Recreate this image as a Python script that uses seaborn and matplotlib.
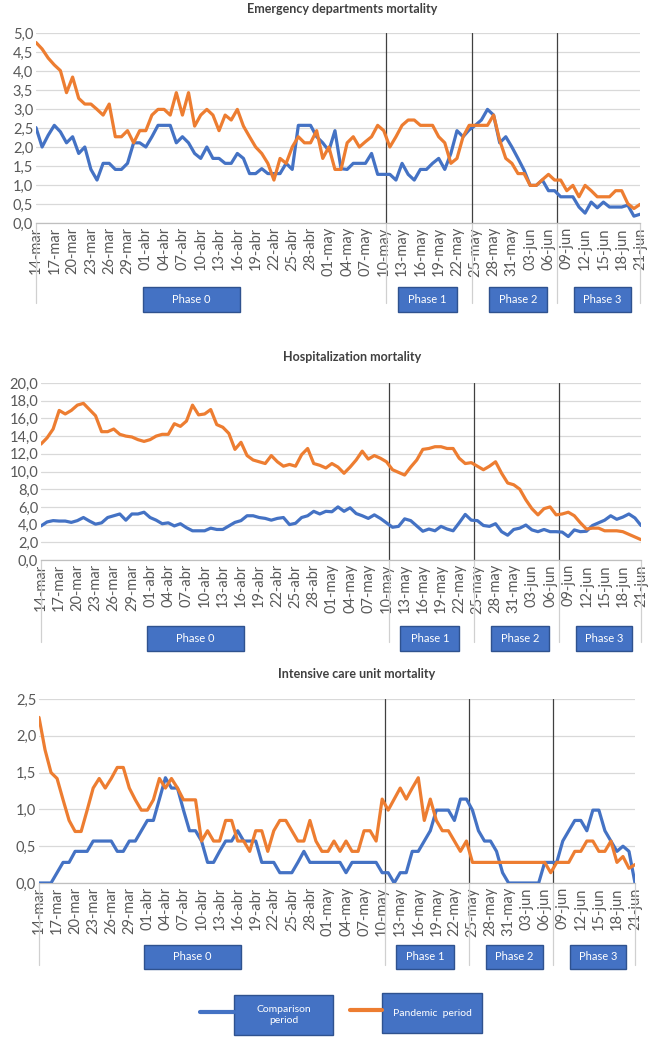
import numpy as np
import pandas as pd
import matplotlib
matplotlib.use("Agg")
import matplotlib.pyplot as plt
import matplotlib.transforms as mtrans
from matplotlib.patches import Rectangle
from matplotlib.lines import Line2D
import seaborn as sns

# ---------------- data ----------------
start_date = "2020-03-14"
end_date = "2020-06-21"
month_abbr = {3: "mar", 4: "abr", 5: "may", 6: "jun"}

series_names = ["Comparison period", "Pandemic period"]
phase_names = ["Phase 0", "Phase 1", "Phase 2", "Phase 3"]
phase_bounds = [57.4, 71.5, 85.4]   # day index of phase changes

titles = ["Emergency departments mortality",
          "Hospitalization mortality",
          "Intensive care unit mortality"]

ed_comp = [2.51, 2.0, 2.31, 2.57, 2.40, 2.11, 2.27, 1.83, 2.0, 1.41,
           1.13, 1.57, 1.57, 1.41, 1.41, 1.57, 2.11, 2.11, 2.0, 2.27,
           2.57, 2.57, 2.57, 2.11, 2.27, 2.11, 1.83, 1.70, 2.0, 1.70,
           1.70, 1.57, 1.57, 1.83, 1.70, 1.30, 1.30, 1.43, 1.30, 1.30,
           1.30, 1.57, 1.41, 2.57, 2.57, 2.57, 2.27, 2.11, 1.90, 2.43,
           1.43, 1.41, 1.57, 1.57, 1.57, 1.83, 1.28, 1.28, 1.28, 1.13,
           1.57, 1.28, 1.13, 1.41, 1.41, 1.57, 1.70, 1.41, 1.83, 2.43,
           2.27, 2.45, 2.57, 2.71, 2.99, 2.84, 2.11, 2.27, 2.0, 1.70,
           1.39, 0.99, 0.99, 1.13, 0.85, 0.85, 0.69, 0.69, 0.69, 0.42,
           0.26, 0.55, 0.40, 0.55, 0.42, 0.42, 0.42, 0.47, 0.18, 0.23]
ed_pand = [4.75, 4.58, 4.34, 4.16, 4.01, 3.43, 3.84, 3.28, 3.13, 3.13,
           2.99, 2.84, 3.13, 2.27, 2.27, 2.43, 2.11, 2.43, 2.43, 2.84,
           2.99, 2.99, 2.84, 3.43, 2.84, 3.43, 2.55, 2.84, 2.99, 2.84,
           2.43, 2.84, 2.71, 2.99, 2.55, 2.27, 2.0, 1.83, 1.57, 1.13,
           1.70, 1.57, 2.0, 2.27, 2.11, 2.11, 2.43, 1.70, 2.0, 1.41,
           1.41, 2.11, 2.27, 2.0, 2.14, 2.27, 2.57, 2.43, 2.0, 2.27,
           2.57, 2.71, 2.71, 2.57, 2.57, 2.57, 2.27, 2.11, 1.57, 1.70,
           2.27, 2.57, 2.57, 2.57, 2.57, 2.84, 2.18, 1.70, 1.57, 1.30,
           1.30, 0.99, 0.99, 1.14, 1.28, 1.13, 1.13, 0.85, 0.99, 0.69,
           0.99, 0.85, 0.69, 0.69, 0.69, 0.85, 0.85, 0.51, 0.38, 0.49]

hosp_comp = [3.85, 4.3, 4.45, 4.4, 4.4, 4.25, 4.45, 4.8, 4.4, 4.05,
             4.2, 4.8, 5.0, 5.2, 4.5, 5.2, 5.2, 5.4, 4.8, 4.5,
             4.1, 4.2, 3.85, 4.1, 3.65, 3.3, 3.3, 3.3, 3.6, 3.45,
             3.45, 3.85, 4.25, 4.45, 5.0, 5.0, 4.8, 4.7, 4.5, 4.7,
             4.8, 4.0, 4.15, 4.8, 5.0, 5.5, 5.2, 5.5, 5.45, 6.0,
             5.5, 5.9, 5.25, 5.0, 4.7, 5.1, 4.7, 4.2, 3.7, 3.8,
             4.65, 4.45, 3.85, 3.25, 3.5, 3.3, 3.8, 3.5, 3.3, 4.2,
             5.15, 4.5, 4.45, 3.9, 3.8, 4.1, 3.2, 2.8, 3.45, 3.6,
             3.95, 3.4, 3.2, 3.45, 3.2, 3.2, 3.15, 2.65, 3.4, 3.2,
             3.25, 3.9, 4.2, 4.5, 5.0, 4.6, 4.85, 5.2, 4.75, 3.9]
hosp_pand = [13.1, 13.8, 14.8, 16.9, 16.5, 16.9, 17.5, 17.7, 17.0, 16.3,
             14.5, 14.5, 14.8, 14.2, 14.0, 13.9, 13.6, 13.4, 13.6, 14.0,
             14.2, 14.2, 15.4, 15.1, 15.7, 17.5, 16.4, 16.5, 17.0, 15.3,
             15.0, 14.3, 12.5, 13.3, 11.8, 11.3, 11.1, 10.9, 11.8, 11.1,
             10.6, 10.8, 10.6, 11.9, 12.6, 10.9, 10.7, 10.4, 10.9, 10.5,
             9.8, 10.5, 11.3, 12.3, 11.4, 11.8, 11.5, 11.1, 10.2, 9.9,
             9.6, 10.5, 11.3, 12.5, 12.6, 12.8, 12.8, 12.6, 12.6, 11.5,
             10.9, 11.0, 10.6, 10.2, 10.6, 11.1, 9.8, 8.7, 8.5, 8.0,
             6.8, 5.8, 5.1, 5.8, 6.0, 5.1, 5.2, 5.4, 5.0, 4.2,
             3.5, 3.6, 3.6, 3.3, 3.3, 3.3, 3.2, 2.9, 2.6, 2.3]

icu_comp = [0.0, 0.0, 0.0, 0.14, 0.28, 0.28, 0.43, 0.43, 0.43, 0.57,
            0.57, 0.57, 0.57, 0.43, 0.43, 0.57, 0.57, 0.71, 0.85, 0.85,
            1.14, 1.43, 1.29, 1.29, 0.99, 0.71, 0.71, 0.57, 0.28, 0.28,
            0.43, 0.57, 0.57, 0.71, 0.57, 0.57, 0.57, 0.28, 0.28, 0.28,
            0.14, 0.14, 0.14, 0.28, 0.43, 0.28, 0.28, 0.28, 0.28, 0.28,
            0.28, 0.14, 0.28, 0.28, 0.28, 0.28, 0.28, 0.14, 0.14, 0.0,
            0.14, 0.14, 0.43, 0.43, 0.57, 0.71, 0.99, 0.99, 0.99, 0.85,
            1.14, 1.14, 0.99, 0.71, 0.57, 0.57, 0.43, 0.14, 0.0, 0.0,
            0.0, 0.0, 0.0, 0.0, 0.28, 0.28, 0.28, 0.57, 0.71, 0.85,
            0.85, 0.71, 0.99, 0.99, 0.71, 0.57, 0.43, 0.50, 0.43, 0.0]
icu_pand = [2.25, 1.81, 1.50, 1.42, 1.13, 0.85, 0.70, 0.70, 0.99, 1.29,
            1.42, 1.29, 1.42, 1.57, 1.57, 1.29, 1.13, 0.99, 0.99, 1.13,
            1.42, 1.29, 1.42, 1.29, 1.13, 1.13, 1.13, 0.57, 0.71, 0.57,
            0.57, 0.85, 0.85, 0.57, 0.57, 0.43, 0.71, 0.71, 0.43, 0.71,
            0.85, 0.85, 0.71, 0.57, 0.57, 0.85, 0.57, 0.43, 0.43, 0.57,
            0.43, 0.57, 0.43, 0.43, 0.71, 0.71, 0.57, 1.14, 0.99, 1.14,
            1.29, 1.14, 1.29, 1.43, 0.85, 1.14, 0.85, 0.71, 0.71, 0.57,
            0.43, 0.57, 0.28, 0.28, 0.28, 0.28, 0.28, 0.28, 0.28, 0.28,
            0.28, 0.28, 0.28, 0.28, 0.28, 0.14, 0.28, 0.28, 0.28, 0.43,
            0.43, 0.57, 0.57, 0.43, 0.43, 0.57, 0.28, 0.36, 0.20, 0.25]

panels_comp = [ed_comp, hosp_comp, icu_comp]
panels_pand = [ed_pand, hosp_pand, icu_pand]
y_max = [5.0, 20.0, 2.5]
y_step = [0.5, 2.0, 0.5]

# ---------------- style ----------------
W, H = 648, 1038
BLUE = "#4472C4"
ORANGE = "#ED7D31"
BOX_EDGE = "#2F528F"
TXT = "#595959"
GRID = "#D9D9D9"

sns.set_theme(style="white")
plt.rcParams["font.family"] = ["Lato", "DejaVu Sans"]

fig = plt.figure(figsize=(W / 100, H / 100), dpi=100)
fig.patch.set_facecolor("white")

def fx(px):
    return px / W

def fy(py):
    return 1 - py / H

# axes pixel rectangles: left, right, top, bottom
rects = [(36, 640, 33, 223), (41, 641, 383, 560), (39, 635, 699, 883)]
title_pos = [(342, 9), (352, 357), (357, 674)]
box_y = [(287, 312), (626, 651), (945, 969)]
sep_bottom = [303, 642, 965]
phase_box_x = [(17.5, 33.5), (59.3, 69.0), (74.2, 83.8), (88.2, 97.5)]

dates = pd.date_range(start_date, end_date)
date_labels = [f"{d.day:02d}-{month_abbr[d.month]}" for d in dates]
days = np.arange(len(dates))
tick_idx = list(range(0, len(dates), 3))

for i in range(3):
    l, r, t, b = rects[i]
    ax = fig.add_axes([fx(l), fy(b), (r - l) / W, (b - t) / H])
    df = pd.DataFrame({"day": days,
                       series_names[0]: panels_comp[i],
                       series_names[1]: panels_pand[i]})
    long = df.melt(id_vars="day", var_name="series", value_name="value")
    sns.lineplot(data=long, x="day", y="value", hue="series",
                 palette={series_names[0]: BLUE, series_names[1]: ORANGE},
                 linewidth=2.3, ax=ax, legend=False, zorder=3)
    ax.set_xlim(0, len(dates) - 1)
    ax.set_ylim(0, y_max[i])
    yt = np.arange(0, y_max[i] + 1e-9, y_step[i])
    ax.set_yticks(yt)
    ax.set_yticklabels([f"{v:.1f}".replace(".", ",") for v in yt],
                       fontsize=10.5, color=TXT)
    ax.set_xticks(tick_idx)
    ax.set_xticklabels([date_labels[k] for k in tick_idx], rotation=90,
                       fontsize=10.5, color=TXT)
    ax.tick_params(length=0, pad=3)
    ax.tick_params(axis="y", pad=2)
    ax.set_xlabel("")
    ax.set_ylabel("")
    ax.grid(axis="y", color=GRID, linewidth=0.9, zorder=0)
    ax.grid(axis="x", visible=False)
    for s in ["top", "left", "right"]:
        ax.spines[s].set_visible(False)
    ax.spines["bottom"].set_color("#BFBFBF")
    ax.spines["bottom"].set_linewidth(0.9)
    ax.set_facecolor("white")
    for pb in phase_bounds:
        ax.axvline(pb, color="#404040", linewidth=0.9, zorder=2)

    # separators below axis (category grouping lines)
    trans_xa = mtrans.blended_transform_factory(ax.transData, ax.transAxes)
    drop = (sep_bottom[i] - b) / (b - t)
    for sx in [0] + phase_bounds + [len(dates) - 1]:
        ax.add_line(Line2D([sx, sx], [0, -drop], transform=trans_xa,
                           color="#D0D0D0", linewidth=0.9, clip_on=False))

    # phase boxes
    trans_xf = mtrans.blended_transform_factory(ax.transData, fig.transFigure)
    y0, y1 = box_y[i]
    for (x0, x1), name in zip(phase_box_x, phase_names):
        ax.add_patch(Rectangle((x0, fy(y1)), x1 - x0, (y1 - y0) / H,
                               transform=trans_xf, facecolor=BLUE,
                               edgecolor=BOX_EDGE, linewidth=1.0,
                               clip_on=False, zorder=5))
        ax.text((x0 + x1) / 2, fy((y0 + y1) / 2), name, transform=trans_xf,
                ha="center", va="center", color="white", fontsize=8,
                zorder=6, clip_on=False)

    tx, ty = title_pos[i]
    fig.text(fx(tx), fy(ty), titles[i], ha="center", va="center",
             fontsize=9, fontweight="bold", color="#404040")

# legend drawn as boxes
legend_items = [
    (series_names[0], BLUE, (200, 234), (234, 333, 995, 1035), "Comparison\nperiod"),
    (series_names[1], ORANGE, (350, 382), (382, 482, 993, 1033), "Pandemic  period"),
]
for name, col, (lx0, lx1), (bx0, bx1, by0, by1), label in legend_items:
    ly = (by0 + by1) / 2 - 3
    fig.add_artist(Line2D([fx(lx0), fx(lx1)], [fy(ly), fy(ly)],
                          color=col, linewidth=3, transform=fig.transFigure))
    fig.add_artist(Rectangle((fx(bx0), fy(by1)), (bx1 - bx0) / W,
                             (by1 - by0) / H, transform=fig.transFigure,
                             facecolor=BLUE, edgecolor=BOX_EDGE, linewidth=1.0))
    fig.text(fx((bx0 + bx1) / 2), fy((by0 + by1) / 2), label, ha="center",
             va="center", color="white", fontsize=7.5, linespacing=1.4)

fig.savefig("out.png", dpi=100, facecolor="white")
